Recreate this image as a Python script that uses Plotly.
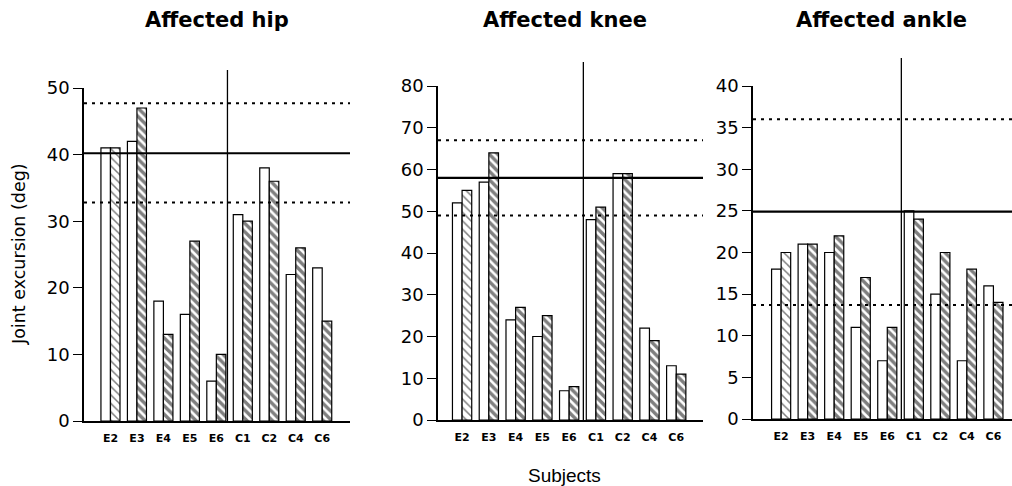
import plotly.graph_objects as go

subjects = ["E2", "E3", "E4", "E5", "E6", "C1", "C2", "C4", "C6"]

hip_white = [41, 42, 18, 16, 6, 31, 38, 22, 23]
hip_hatched = [41, 47, 13, 27, 10, 30, 36, 26, 15]
hip_ref = [40.2, 47.7, 32.8]  # mean, upper, lower

knee_white = [52, 57, 24, 20, 7, 48, 59, 22, 13]
knee_hatched = [55, 64, 27, 25, 8, 51, 59, 19, 11]
knee_ref = [58, 67, 49]

ankle_white = [18, 21, 20, 11, 7, 25, 15, 7, 16]
ankle_hatched = [20, 21, 22, 17, 11, 24, 20, 18, 14]
ankle_ref = [24.9, 36, 13.7]

titles = ["Affected hip", "Affected knee", "Affected ankle"]
y_max = [50, 80, 40]
y_dtick = [10, 10, 5]

W, H = 1012, 486
FONT = "DejaVu Sans, Liberation Sans, Arial, sans-serif"
FONT2 = "Liberation Sans, Arial, sans-serif"

# layout (pixels)
panels = [
    dict(left=84, right=350, top=88, bottom=421, xr=[-1.0, 9.05], sep=4.42, septop=70, tcx=217),
    dict(left=438, right=703, top=86, bottom=420, xr=[-0.9, 9.0], sep=4.53, septop=62, tcx=565),
    dict(left=753, right=1012, top=86, bottom=419, xr=[-1.06, 8.7], sep=4.53, septop=58, tcx=881),
]

data_sets = [
    (hip_white, hip_hatched, hip_ref),
    (knee_white, knee_hatched, knee_ref),
    (ankle_white, ankle_hatched, ankle_ref),
]

x_idx = list(range(len(subjects)))
fig = go.Figure()
shapes = []
annotations = []
layout_axes = {}

for i, (p, (wv, hv, ref)) in enumerate(zip(panels, data_sets)):
    n = "" if i == 0 else str(i + 1)
    xa, ya = "x" + n, "y" + n
    fig.add_trace(go.Bar(
        x=x_idx, y=wv, xaxis=xa, yaxis=ya, offsetgroup="a",
        marker=dict(color="white", line=dict(color="black", width=1.2)),
        showlegend=False,
    ))
    sol = [0.25] + [0.58] * (len(subjects) - 1)
    fig.add_trace(go.Bar(
        x=x_idx, y=hv, xaxis=xa, yaxis=ya, offsetgroup="b",
        marker=dict(color="white", line=dict(color="black", width=1.2),
                    pattern=dict(shape="\\", fgcolor="black", bgcolor="white",
                                 size=6, solidity=sol)),
        showlegend=False,
    ))
    layout_axes["xaxis" + n] = dict(
        domain=[p["left"] / W, p["right"] / W], range=p["xr"], anchor=ya,
        tickvals=x_idx, ticktext=subjects, showline=True, linecolor="black",
        linewidth=1.6, ticks="", showgrid=False, zeroline=False,
        tickfont=dict(family=FONT, size=11, color="black", weight="bold"),
        ticklabelstandoff=6,
    )
    layout_axes["yaxis" + n] = dict(
        domain=[1 - p["bottom"] / H, 1 - p["top"] / H], range=[0, y_max[i]],
        anchor=xa, dtick=y_dtick[i], showline=True, linecolor="black",
        linewidth=1.6, ticks="outside", ticklen=9, tickwidth=1.4,
        tickcolor="black", showgrid=False, zeroline=False,
        tickfont=dict(family=FONT, size=18, color="black"),
    )
    # reference lines
    shapes.append(dict(type="line", xref=xa, yref=ya, x0=p["xr"][0], x1=p["xr"][1],
                       y0=ref[0], y1=ref[0], line=dict(color="black", width=2.2)))
    for r in ref[1:]:
        shapes.append(dict(type="line", xref=xa, yref=ya, x0=p["xr"][0], x1=p["xr"][1],
                           y0=r, y1=r, line=dict(color="black", width=2, dash="3px,5px")))
    # separator between E and C groups
    fx = (p["sep"] - p["xr"][0]) / (p["xr"][1] - p["xr"][0])
    ytop = 1 + (p["top"] - p["septop"]) / (p["bottom"] - p["top"])
    shapes.append(dict(type="line", xref=xa + " domain", yref=ya + " domain",
                       x0=fx, x1=fx, y0=0, y1=ytop, line=dict(color="black", width=1.3)))
    annotations.append(dict(text="<b>" + titles[i] + "</b>", xref="paper", yref="paper",
                            x=p["tcx"] / W, y=1 - 20 / H, showarrow=False,
                            xanchor="center", yanchor="middle",
                            font=dict(family=FONT, size=21, color="black")))

annotations.append(dict(text="Joint excursion (deg)", xref="paper", yref="paper",
                        x=19 / W, y=1 - 254 / H, textangle=-90, showarrow=False,
                        xanchor="center", yanchor="middle",
                        font=dict(family=FONT, size=17.5, color="black")))
annotations.append(dict(text="Subjects", xref="paper", yref="paper",
                        x=564 / W, y=1 - 475 / H, showarrow=False,
                        xanchor="center", yanchor="middle",
                        font=dict(family=FONT2, size=19, color="black")))

fig.update_layout(
    width=W, height=H, margin=dict(l=0, r=0, t=0, b=0, autoexpand=False),
    paper_bgcolor="white", plot_bgcolor="white",
    barmode="group", bargap=0.28, bargroupgap=0,
    shapes=shapes, annotations=annotations, showlegend=False,
    **layout_axes,
)

fig.write_html("out.html", config={"displayModeBar": False},
               post_script="document.body.style.margin='0';document.body.style.overflow='hidden';")
